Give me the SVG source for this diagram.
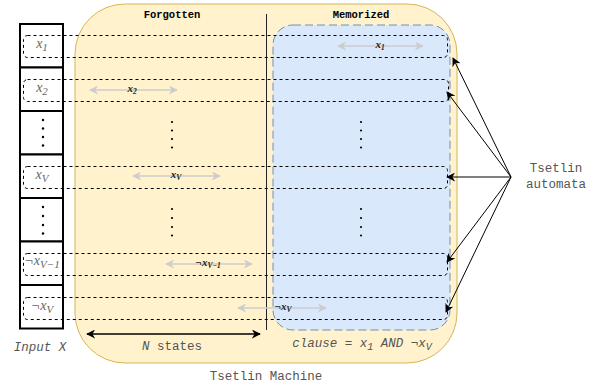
<svg xmlns="http://www.w3.org/2000/svg" width="595" height="385" viewBox="0 0 595 385">
<defs>
<style>
.mono{font-family:"Liberation Mono","Courier New",monospace;font-size:12.5px;fill:#555}
.hdr{font-family:"Liberation Mono","Courier New",monospace;font-size:10.5px;font-weight:bold;fill:#000}
.cell{fill:#fff;stroke:#000;stroke-width:2}
.row{fill:none;stroke:#000;stroke-width:1;stroke-dasharray:3 3}
.var{font-family:"Liberation Serif","Times New Roman",serif;font-style:italic;font-size:14px;fill:#666}
.lab{font-family:"Liberation Serif","Times New Roman",serif;font-style:italic;font-weight:bold;font-size:11px;fill:#222}
.garrow{stroke:#ccc;stroke-width:1.5;fill:none;marker-start:url(#ga);marker-end:url(#ga)}
.barrow{stroke:#000;stroke-width:1;fill:none;marker-end:url(#ba)}
.dot{fill:#000}
</style>
<marker id="ga" viewBox="0 0 10 10" refX="9" refY="5" markerWidth="9" markerHeight="9" orient="auto-start-reverse" markerUnits="userSpaceOnUse">
<path d="M0,0 L10,5 L0,10 L3,5 Z" fill="#ccc"/>
</marker>
<marker id="ba" viewBox="0 0 10 10" refX="9" refY="5" markerWidth="9" markerHeight="9" orient="auto-start-reverse" markerUnits="userSpaceOnUse">
<path d="M0,0 L10,5 L0,10 L3,5 Z" fill="#000"/>
</marker>
</defs>

<g id="tsetlin-machine">
<rect x="75" y="4" width="382" height="359" rx="50" ry="50" fill="#fff2cc" stroke="#d6b656" stroke-width="1"/>
<text class="mono" x="266" y="380" text-anchor="middle">Tsetlin Machine</text>
</g>

<g id="memorized">
<rect x="273" y="25" width="177" height="305" rx="20" ry="20" fill="#dae8fc" stroke="#6c8ebf" stroke-width="1" stroke-dasharray="8 4"/>
<text class="hdr" x="361" y="18" text-anchor="middle">Memorized</text>
</g>

<g id="forgotten">
<text class="hdr" x="172" y="18" text-anchor="middle">Forgotten</text>
<line x1="266.5" y1="14" x2="266.5" y2="330" stroke="#222" stroke-width="1"/>
</g>

<g id="input-x">
<rect class="cell" x="20" y="24" width="43" height="43.5"/>
<rect class="cell" x="20" y="67.5" width="43" height="43.5"/>
<rect class="cell" x="20" y="111" width="43" height="43.5"/>
<rect class="cell" x="20" y="154.5" width="43" height="43.5"/>
<rect class="cell" x="20" y="198" width="43" height="43.5"/>
<rect class="cell" x="20" y="241.5" width="43" height="43.5"/>
<rect class="cell" x="20" y="285" width="43" height="43.5"/>
<circle class="dot" cx="43" cy="120" r="1.2"/><circle class="dot" cx="43" cy="128.5" r="1.2"/><circle class="dot" cx="43" cy="137" r="1.2"/><circle class="dot" cx="43" cy="145.5" r="1.2"/>
<circle class="dot" cx="43" cy="207" r="1.2"/><circle class="dot" cx="43" cy="216" r="1.2"/><circle class="dot" cx="43" cy="225" r="1.2"/><circle class="dot" cx="43" cy="233.5" r="1.2"/>
<text class="mono" x="40" y="351" text-anchor="middle" font-style="italic">Input X</text>
</g>

<g id="rows">
<rect class="row" x="23.5" y="35.5" width="424" height="22" rx="4"/>
<rect class="row" x="23.5" y="79.5" width="425" height="22" rx="4"/>
<rect class="row" x="23.5" y="166.5" width="424" height="22" rx="4"/>
<rect class="row" x="23.5" y="253.5" width="424" height="22" rx="4"/>
<rect class="row" x="23.5" y="297.5" width="424" height="22" rx="4"/>
</g>

<g id="row-labels">
<text class="var" x="42" y="48" text-anchor="middle">x<tspan font-size="11" dy="3">1</tspan></text>
<text class="var" x="42" y="92" text-anchor="middle">x<tspan font-size="11" dy="3">2</tspan></text>
<text class="var" x="42" y="179" text-anchor="middle">x<tspan font-size="11" dy="3">V</tspan></text>
<text class="var" x="42" y="265" text-anchor="middle">¬x<tspan font-size="11" dy="3">V−1</tspan></text>
<text class="var" x="42" y="310" text-anchor="middle">¬x<tspan font-size="11" dy="3">V</tspan></text>
</g>

<g id="dots">
<circle class="dot" cx="172" cy="122" r="1.1"/><circle class="dot" cx="172" cy="130.5" r="1.1"/><circle class="dot" cx="172" cy="139" r="1.1"/><circle class="dot" cx="172" cy="147.5" r="1.1"/>
<circle class="dot" cx="172" cy="209" r="1.1"/><circle class="dot" cx="172" cy="218" r="1.1"/><circle class="dot" cx="172" cy="227" r="1.1"/><circle class="dot" cx="172" cy="235.5" r="1.1"/>
<circle class="dot" cx="361" cy="122" r="1.1"/><circle class="dot" cx="361" cy="130.5" r="1.1"/><circle class="dot" cx="361" cy="139" r="1.1"/><circle class="dot" cx="361" cy="147.5" r="1.1"/>
<circle class="dot" cx="361" cy="209" r="1.1"/><circle class="dot" cx="361" cy="218" r="1.1"/><circle class="dot" cx="361" cy="227" r="1.1"/><circle class="dot" cx="361" cy="235.5" r="1.1"/>
</g>

<g id="connectors">
<line class="garrow" x1="338" y1="46" x2="423" y2="46"/>
<line class="garrow" x1="90" y1="90" x2="177" y2="90"/>
<line class="garrow" x1="133" y1="176" x2="220" y2="176"/>
<line class="garrow" x1="166" y1="264" x2="252" y2="264"/>
<line class="garrow" x1="238" y1="308" x2="326" y2="308"/>
<line stroke="#000" stroke-width="1.5" x1="87" y1="334" x2="260" y2="334" marker-start="url(#ba)" marker-end="url(#ba)"/>
<line class="barrow" x1="511" y1="177" x2="453" y2="58"/>
<line class="barrow" x1="511" y1="177" x2="447" y2="92"/>
<line class="barrow" x1="511" y1="177" x2="447" y2="177"/>
<line class="barrow" x1="511" y1="177" x2="447" y2="262"/>
<line class="barrow" x1="511" y1="177" x2="446" y2="312"/>
</g>

<g id="edge-labels">
<text class="lab" x="380" y="48" text-anchor="middle">x<tspan font-size="7.5" dy="2">1</tspan></text>
<text class="lab" x="132" y="92" text-anchor="middle">x<tspan font-size="7.5" dy="2">2</tspan></text>
<text class="lab" x="176" y="178" text-anchor="middle">x<tspan font-size="7.5" dy="2">V</tspan></text>
<text class="lab" x="208" y="266" text-anchor="middle">¬x<tspan font-size="7.5" dy="2">V−1</tspan></text>
<text class="lab" x="283" y="310" text-anchor="middle">¬x<tspan font-size="7.5" dy="2">V</tspan></text>
<text class="mono" x="172" y="350" text-anchor="middle"><tspan font-style="italic">N</tspan> states</text>
<text class="mono" x="362" y="347" text-anchor="middle" font-style="italic">clause = x<tspan font-size="10" dy="3">1</tspan><tspan dy="-3"> AND ¬x</tspan><tspan font-size="10" dy="3">V</tspan></text>
</g>

<g id="tsetlin-automata">
<text class="mono" x="556" y="172" text-anchor="middle">Tsetlin</text>
<text class="mono" x="556" y="188" text-anchor="middle">automata</text>
</g>
</svg>
